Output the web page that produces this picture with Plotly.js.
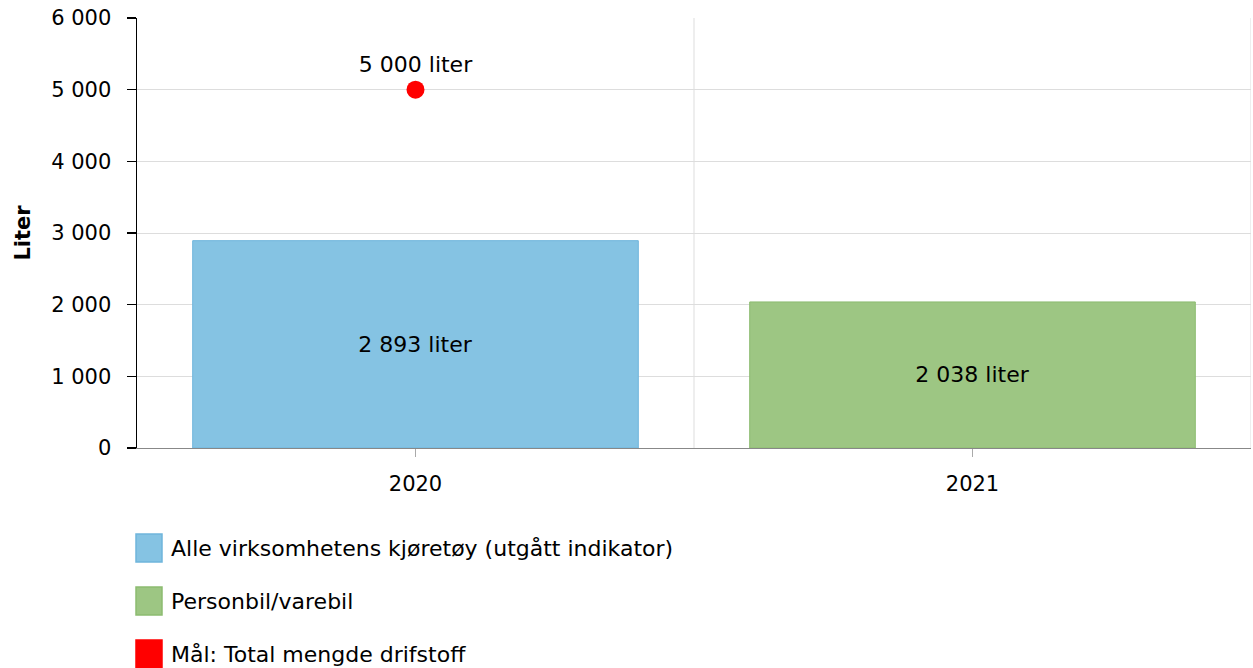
<!DOCTYPE html>
<html>
<head>
<meta charset="utf-8">
<script src="https://cdn.plot.ly/plotly-3.0.1.min.js"></script>
<style>html,body{margin:0;padding:0;background:#fff;}#chart{width:1253px;height:668px;}</style>
</head>
<body>
<div id="chart"></div>
<script>
const categories = ['2020', '2021'];
const seriesAllName = 'Alle virksomhetens kjøretøy (utgått indikator)';
const seriesAllX = ['2020'];
const seriesAllY = [2893];
const seriesCarName = 'Personbil/varebil';
const seriesCarX = ['2021'];
const seriesCarY = [2038];
const targetName = 'Mål: Total mengde drifstoff';
const targetX = ['2020'];
const targetY = [5000];
const yTicks = [0, 1000, 2000, 3000, 4000, 5000, 6000];

const FONT = 'DejaVu Sans, Verdana, sans-serif';
const FS = 21;
const FS_TEXT = 22;

const W = 1253, H = 668;
const M = {l: 137, r: 2, t: 18, b: 220};
const PW = W - M.l - M.r, PH = H - M.t - M.b;

const colors = {all: '#85c3e3', allLine: '#6fb5dc', car: '#9dc683', carLine: '#8cbc70', target: '#ff0000'};

const traces = [
  {
    type: 'bar', name: seriesAllName, x: seriesAllX, y: seriesAllY,
    width: 0.8,
    marker: {color: colors.all, line: {color: colors.allLine, width: 1}},
    texttemplate: '%{y:,} liter', textposition: 'inside', insidetextanchor: 'middle',
    textfont: {color: '#000', size: FS_TEXT, family: FONT},
    hoverinfo: 'skip', showlegend: false
  },
  {
    type: 'bar', name: seriesCarName, x: seriesCarX, y: seriesCarY,
    width: 0.8,
    marker: {color: colors.car, line: {color: colors.carLine, width: 1}},
    texttemplate: '%{y:,} liter', textposition: 'inside', insidetextanchor: 'middle',
    textfont: {color: '#000', size: FS_TEXT, family: FONT},
    hoverinfo: 'skip', showlegend: false
  },
  {
    type: 'scatter', mode: 'markers+text', name: targetName, x: targetX, y: targetY,
    marker: {color: colors.target, size: 18, symbol: 'circle'},
    texttemplate: '%{y:,} liter', textposition: 'top center',
    textfont: {color: '#000', size: FS_TEXT, family: FONT},
    hoverinfo: 'skip', showlegend: false
  }
];

// Custom legend (large squares), placed in paper coordinates below the plot
const legendItems = [
  {name: seriesAllName, fill: colors.all, line: colors.allLine},
  {name: seriesCarName, fill: colors.car, line: colors.carLine},
  {name: targetName, fill: colors.target, line: colors.target}
];
const px2x = p => (p - M.l) / PW;
const py2y = p => (H - M.b - p) / PH;
const legendShapes = [], legendAnn = [];
legendItems.forEach((it, i) => {
  const cy = 548 + i * 53;
  legendShapes.push({
    type: 'rect', xref: 'paper', yref: 'paper',
    x0: px2x(136), x1: px2x(162), y0: py2y(cy - 14), y1: py2y(cy + 14),
    fillcolor: it.fill, line: {color: it.line, width: 1.5}
  });
  legendAnn.push({
    xref: 'paper', yref: 'paper', x: px2x(169), y: py2y(cy),
    xanchor: 'left', yanchor: 'middle', showarrow: false,
    text: it.name, font: {family: FONT, size: FS_TEXT, color: '#000'}
  });
});

const layout = {
  width: W, height: H,
  margin: M,
  paper_bgcolor: '#fff', plot_bgcolor: '#fff',
  separators: ', ',
  font: {family: FONT, size: FS, color: '#000'},
  barmode: 'overlay',
  showlegend: false,
  xaxis: {
    type: 'category', categoryorder: 'array', categoryarray: categories,
    range: [-0.5, 1.5],
    showgrid: false, zeroline: false,
    showline: true, linecolor: '#888', linewidth: 1,
    ticks: 'outside', ticklen: 8, tickcolor: '#aaa', tickwidth: 1,
    ticklabelstandoff: 9,
    tickfont: {family: FONT, size: FS, color: '#000'}
  },
  yaxis: {
    range: [0, 6000], tickvals: yTicks, tickformat: ',d',
    showgrid: true, gridcolor: '#dddddd', gridwidth: 1, zeroline: false,
    showline: true, linecolor: '#000', linewidth: 1.5,
    ticks: 'outside', ticklen: 9, tickcolor: '#000', tickwidth: 1.5,
    ticklabelstandoff: 11,
    tickfont: {family: FONT, size: FS, color: '#000'},
    title: {text: '<b>Liter</b>', font: {family: FONT, size: FS, color: '#000'}, standoff: 15}
  },
  shapes: [
    {type: 'line', xref: 'x', yref: 'paper', x0: 0.5, x1: 0.5, y0: 0, y1: 1, line: {color: '#dddddd', width: 1}, layer: 'below'},
    {type: 'line', xref: 'x', yref: 'paper', x0: 1.5, x1: 1.5, y0: 0, y1: 1, line: {color: '#dddddd', width: 1}, layer: 'below'}
  ].concat(legendShapes),
  annotations: legendAnn
};

Plotly.newPlot('chart', traces, layout, {displayModeBar: false, staticPlot: true});
</script>
</body>
</html>
